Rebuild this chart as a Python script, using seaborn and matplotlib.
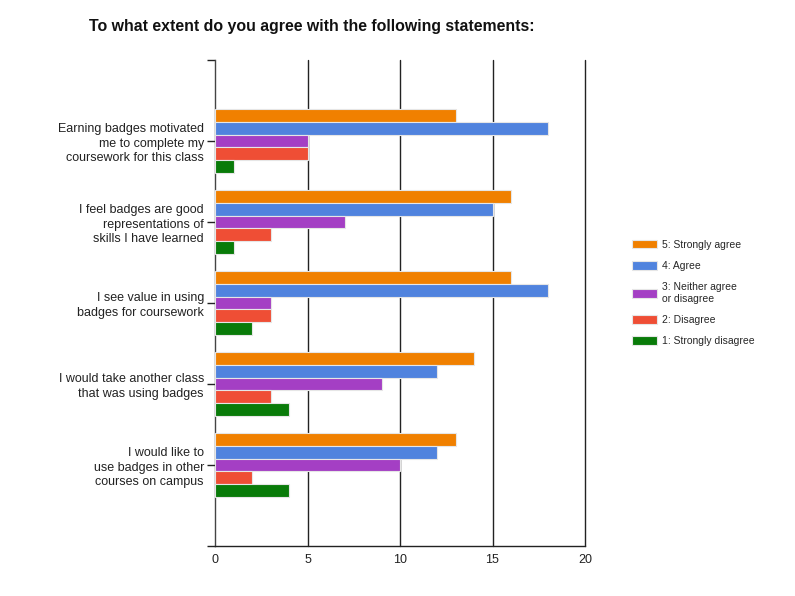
import numpy as np
import pandas as pd
import matplotlib
matplotlib.use("Agg")
import matplotlib.pyplot as plt
import seaborn as sns


statements = [
    "Earning badges motivated\nme to complete my\ncoursework for this class",
    "I feel badges are good\nrepresentations of\nskills I have learned",
    "I see value in using\nbadges for coursework",
    "I would take another class\nthat was using badges",
    "I would like to\nuse badges in other\ncourses on campus",
]
levels = [
    "5: Strongly agree",
    "4: Agree",
    "3: Neither agree\nor disagree",
    "2: Disagree",
    "1: Strongly disagree",
]
strongly_agree = [13, 16, 16, 14, 13]
agree = [18, 15, 18, 12, 12]
neutral = [5, 7, 3, 9, 10]
disagree = [5, 3, 3, 3, 2]
strongly_disagree = [1, 1, 2, 4, 4]
colors = ["#F08000", "#5083DE", "#A43FC4", "#EF4E35", "#097B09"]

series = [strongly_agree, agree, neutral, disagree, strongly_disagree]
rows = []
for level, vals in zip(levels, series):
    for s, v in zip(statements, vals):
        rows.append({"statement": s, "level": level, "count": v})
df = pd.DataFrame(rows)

sns.set_style("white")
plt.rcParams["font.family"] = ["Liberation Sans", "DejaVu Sans"]

fig = plt.figure(figsize=(7.95, 5.96), dpi=100)
ax = fig.add_axes([215 / 795, 1 - 546 / 596, 370 / 795, 486 / 596])

sns.barplot(data=df, y="statement", x="count", hue="level", order=statements,
            hue_order=levels, palette=colors, orient="h", width=0.8,
            edgecolor="#e6e6e6", linewidth=0.8, saturation=1, ax=ax, zorder=3)

ax.set_xlim(0, 20)
ax.set_ylim(5, -1)
ax.set_xticks([0, 5, 10, 15, 20])
ax.set_xlabel("")
ax.set_ylabel("")
for xv in [5, 10, 15, 20]:
    ax.axvline(xv, color="#222222", lw=1, zorder=1, clip_on=False)

for side in ["top", "right"]:
    ax.spines[side].set_visible(False)
ax.spines["left"].set_color("#444444")
ax.spines["bottom"].set_color("#222222")
ax.spines["left"].set_linewidth(1)
ax.spines["bottom"].set_linewidth(1)

ax.set_yticks([-1, 5], minor=True)
ax.tick_params(axis="y", which="both", length=6, width=1, color="#222222",
               labelsize=9, labelcolor="#222222", pad=2, left=True)
ax.tick_params(axis="x", length=0, labelsize=9, labelcolor="#222222", pad=6)
for lab in ax.get_yticklabels():
    lab.set_horizontalalignment("right")
    lab.set_multialignment("right")
    lab.set_linespacing(1.25)

ax.legend(loc="center left", bbox_to_anchor=(628 / 795, 1 - 293 / 596),
          bbox_transform=fig.transFigure, frameon=False, fontsize=7.5,
          handlelength=2.4, handleheight=0.9, labelspacing=1.08,
          handletextpad=0.5, borderaxespad=0)

fig.text(312 / 795, 1 - 27 / 596, "To what extent do you agree with the following statements:",
         ha="center", va="center", fontsize=11.4, fontweight="bold", color="#111111")

fig.savefig("out.png", dpi=100)
